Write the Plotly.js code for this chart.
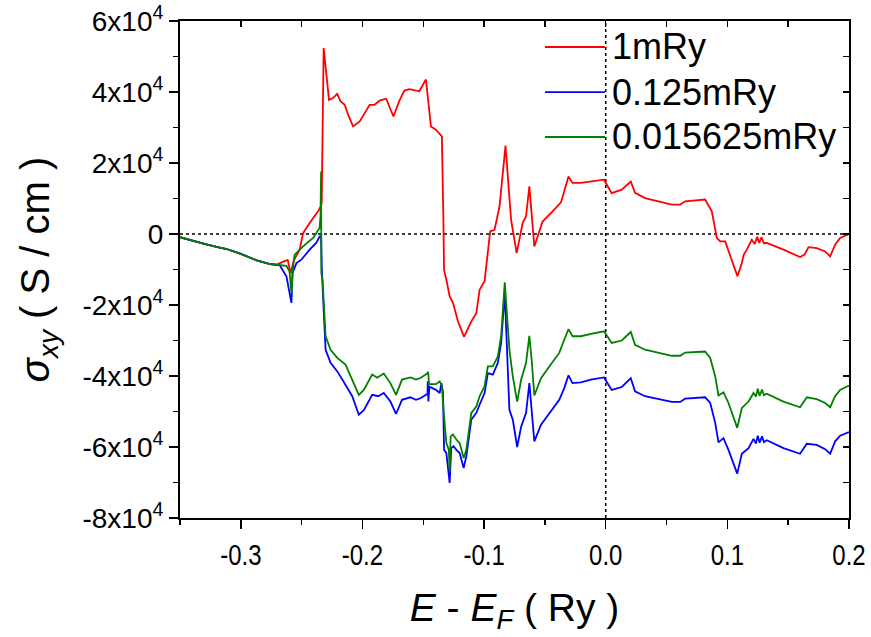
<!DOCTYPE html>
<html>
<head>
<meta charset="utf-8">
<script src="https://cdn.plot.ly/plotly-3.0.1.min.js"></script>
<style>
  html, body { margin: 0; padding: 0; background: #fff; }
  #chart { width: 871px; height: 637px; }
</style>
</head>
<body>
<div id="chart"></div>
<script>
// Hall conductivity sigma_xy versus energy relative to the Fermi level,
// for three broadening parameters.
const seriesNames = ['1mRy', '0.125mRy', '0.015625mRy'];
const seriesColors = ['#ff0000', '#0000ff', '#007f00'];

// Broadening 1 mRy
const energy1mRy = [
  -0.35, -0.34, -0.33, -0.32, -0.3116, -0.30, -0.2869, -0.276, -0.2705, -0.265,
  -0.2615, -0.259, -0.2565, -0.2516, -0.2488, -0.2434, -0.2365, -0.2343, -0.2335, -0.2319,
  -0.2302, -0.2275, -0.2242, -0.2208, -0.2181, -0.2146, -0.2118, -0.2077, -0.2023, -0.1941,
  -0.19, -0.1859, -0.1805, -0.1745, -0.1697, -0.1655, -0.1615, -0.1533, -0.1478, -0.1437,
  -0.1396, -0.1347, -0.1335, -0.1329, -0.131, -0.1283, -0.1256, -0.1215, -0.1165, -0.1105,
  -0.1064, -0.1037, -0.0996, -0.0969, -0.095, -0.0914, -0.0873, -0.0824, -0.0778, -0.0732,
  -0.0683, -0.0655, -0.0628, -0.0587, -0.0519, -0.0437, -0.0368, -0.0306, -0.0273, -0.0204,
  -0.0122, -0.0014, 0.0049, 0.0132, 0.0206, 0.0241, 0.0323, 0.0447, 0.0543, 0.0612,
  0.0653, 0.0817, 0.0872, 0.0913, 0.0941, 0.0982, 0.105, 0.1083, 0.1119, 0.1135,
  0.116, 0.1201, 0.1225, 0.1245, 0.1262, 0.128, 0.13, 0.1324, 0.1461, 0.1598,
  0.1635, 0.1667, 0.1735, 0.1804, 0.1845, 0.1886, 0.1927, 0.2
];
const sigma1mRy = [
  -900, -1900, -2800, -3600, -4225, -5600, -7440, -8450, -8600, -7800,
  -7300, -11000, -7500, -4420, 280, 3100, 6370, 7770, 9000, 52400,
  46300, 37800, 38300, 39500, 37400, 36400, 33600, 30300, 31700, 36400,
  36400, 37600, 38100, 33100, 37500, 40400, 40800, 40200, 43500, 30300,
  29400, 27500, 5000, -10100, -12900, -17600, -19400, -24600, -29000, -24600,
  -22300, -15700, -13300, -4400, 730, 1200, 7800, 24900, 4000, -5400,
  3100, 5000, 13400, -3500, 3500, 6400, 8900, 16200, 14400, 14400,
  14800, 15300, 11500, 12500, 14800, 11600, 10100, 9200, 8300, 8300,
  9200, 9700, 6400, -1100, -2100, -2100, -9100, -11900, -8200, -5800,
  -4400, -1600, -2800, -800, -2500, -900, -2600, -2500, -4400, -6500,
  -5800, -3700, -4000, -4900, -6300, -3000, -1100, 0
];

// Broadening 0.125 mRy
const energy0125mRy = [
  -0.35, -0.34, -0.33, -0.32, -0.3116, -0.30, -0.2869, -0.276, -0.268, -0.2625,
  -0.2584, -0.2575, -0.2543, -0.2502, -0.2434, -0.238, -0.2352, -0.234, -0.2335, -0.2318,
  -0.2303, -0.2262, -0.2207, -0.2157, -0.2084, -0.203, -0.1989, -0.192, -0.187, -0.1825,
  -0.177, -0.1724, -0.1675, -0.1606, -0.156, -0.1519, -0.1478, -0.1465, -0.1463, -0.1458,
  -0.145, -0.1396, -0.1365, -0.1351, -0.1338, -0.1329, -0.131, -0.1283, -0.127, -0.1251,
  -0.1228, -0.1201, -0.1168, -0.1146, -0.1105, -0.1064, -0.1037, -0.0996, -0.0969, -0.0928,
  -0.0887, -0.086, -0.083, -0.0792, -0.0764, -0.0728, -0.0695, -0.0655, -0.0628, -0.0609,
  -0.0587, -0.0532, -0.0464, -0.0382, -0.0341, -0.0306, -0.0273, -0.0204, -0.0122, -0.0014,
  0.0049, 0.0132, 0.0206, 0.0241, 0.0323, 0.0433, 0.0543, 0.0612, 0.0653, 0.0817,
  0.0859, 0.09, 0.0927, 0.0968, 0.1009, 0.1081, 0.1119, 0.1174, 0.1215, 0.1235,
  0.125, 0.1265, 0.1285, 0.13, 0.1324, 0.1461, 0.1598, 0.1653, 0.1735, 0.1804,
  0.1845, 0.1886, 0.1927, 0.2
];
const sigma0125mRy = [
  -900, -1900, -2800, -3600, -4225, -5600, -7440, -8450, -8800, -11900,
  -19400, -11000, -8200, -7240, -4400, -2500, -700, -400, -9000, -22000,
  -32600, -36300, -38700, -41500, -45700, -50900, -49600, -45300, -45700, -44800,
  -47200, -50700, -46700, -46000, -46700, -46200, -45100, -45000, -41500, -47200,
  -43000, -43900, -44800, -42000, -44500, -60800, -61700, -70100, -60300, -59800,
  -60800, -61700, -65900, -62600, -52300, -50400, -48100, -44800, -39200, -39600,
  -36300, -30700, -16600, -49500, -52300, -60000, -54200, -50400, -42000, -48600,
  -58400, -53700, -50400, -46700, -43400, -39800, -42000, -41800, -41000, -40400,
  -43900, -43100, -40600, -44300, -45700, -46400, -47300, -47300, -46400, -46000,
  -47600, -53200, -58700, -57500, -60800, -67500, -61900, -60300, -57700, -59000,
  -56800, -58800, -57000, -58600, -58100, -60300, -61900, -59100, -59400, -60600,
  -61900, -58400, -56800, -55800
];

// Broadening 0.015625 mRy
const energy015625mRy = [
  -0.35, -0.34, -0.33, -0.32, -0.3116, -0.30, -0.2869, -0.276, -0.268, -0.2625,
  -0.26, -0.2584, -0.257, -0.2557, -0.2488, -0.2406, -0.2352, -0.2345, -0.234, -0.2338,
  -0.2328, -0.231, -0.2303, -0.2262, -0.2207, -0.2139, -0.2084, -0.203, -0.1989, -0.192,
  -0.1879, -0.1825, -0.177, -0.1724, -0.1675, -0.1606, -0.156, -0.1519, -0.1464, -0.146,
  -0.1452, -0.1396, -0.1365, -0.1347, -0.1329, -0.131, -0.129, -0.1283, -0.1275, -0.1256,
  -0.1228, -0.1201, -0.1168, -0.1146, -0.1105, -0.1064, -0.1037, -0.0996, -0.0969, -0.0928,
  -0.0887, -0.086, -0.083, -0.0792, -0.0764, -0.0728, -0.0695, -0.0655, -0.0628, -0.0609,
  -0.0587, -0.0532, -0.0464, -0.0382, -0.0341, -0.0306, -0.0273, -0.0204, -0.0122, -0.0014,
  0.0049, 0.0132, 0.0206, 0.0241, 0.0323, 0.0433, 0.0543, 0.0612, 0.0653, 0.0817,
  0.0859, 0.09, 0.0927, 0.0968, 0.1009, 0.1081, 0.1119, 0.1174, 0.1215, 0.1235,
  0.125, 0.1265, 0.1285, 0.13, 0.1324, 0.1461, 0.1598, 0.1653, 0.1735, 0.1804,
  0.1845, 0.1886, 0.1927, 0.2
];
const sigma015625mRy = [
  -900, -1900, -2800, -3600, -4225, -5600, -7440, -8450, -8800, -9000,
  -10500, -16600, -9000, -5800, -3500, -1100, 1700, 5000, 17600, -11000,
  -13000, -27000, -28800, -32600, -34900, -36800, -41000, -45300, -43900, -39600,
  -40500, -39300, -42000, -45300, -41000, -40400, -41000, -40500, -39200, -38800,
  -42300, -42300, -41500, -42900, -51400, -58900, -60800, -66900, -57000, -56500,
  -57900, -58900, -63100, -60800, -50400, -48600, -45700, -42900, -37300, -37300,
  -34500, -28800, -13600, -32600, -40100, -47200, -41000, -36300, -28700, -35400,
  -45500, -40600, -37300, -33500, -29800, -26800, -28800, -28800, -28100, -27400,
  -30700, -30000, -27600, -31200, -32600, -33400, -34300, -34300, -33400, -33100,
  -34900, -40100, -45500, -44600, -47600, -54600, -49000, -47200, -44800, -45800,
  -43600, -45600, -43800, -45400, -45000, -47200, -48800, -46000, -46500, -47600,
  -48800, -45700, -43900, -42700
];

// Axis ticks
const xTickVals = [-0.3, -0.2, -0.1, 0.0, 0.1, 0.2];
const xTickText = ['-0.3', '-0.2', '-0.1', '0.0', '0.1', '0.2'];
const yTickVals = [-80000, -60000, -40000, -20000, 0, 20000, 40000, 60000];
const yTickText = ['-8x10<sup>4</sup>', '-6x10<sup>4</sup>', '-4x10<sup>4</sup>', '-2x10<sup>4</sup>',
                   '0', '2x10<sup>4</sup>', '4x10<sup>4</sup>', '6x10<sup>4</sup>'];

const xRange = [-0.35, 0.2];
const yRange = [-80000, 60000];

const energies = [energy1mRy, energy0125mRy, energy015625mRy];
const sigmas = [sigma1mRy, sigma0125mRy, sigma015625mRy];

const traces = seriesNames.map((name, i) => ({
  type: 'scatter',
  mode: 'lines',
  name: name,
  x: energies[i],
  y: sigmas[i],
  line: { color: seriesColors[i], width: 1.8 },
  showlegend: false,
  hoverinfo: 'skip'
}));

// Empty traces that bring up the top and right frame axes
traces.push({ type: 'scatter', x: [], y: [], xaxis: 'x2', yaxis: 'y', showlegend: false });
traces.push({ type: 'scatter', x: [], y: [], xaxis: 'x', yaxis: 'y2', showlegend: false });

const FONT = 'Liberation Sans';
const TICK_SIZE = 28;

// Hand-placed legend: a line sample and a label per series
const legendRowsY = [0.9477, 0.857, 0.7666];
const legendShapes = seriesNames.map((n, i) => ({
  type: 'line', xref: 'paper', yref: 'paper',
  x0: 0.5456, x1: 0.6353, y0: legendRowsY[i], y1: legendRowsY[i],
  line: { color: seriesColors[i], width: 1.8 }
}));
const legendLabels = seriesNames.map((n, i) => ({
  xref: 'paper', yref: 'paper', x: 0.6427, y: legendRowsY[i],
  xanchor: 'left', yanchor: 'middle', showarrow: false,
  text: n, font: { family: FONT, size: 36, color: '#000' }
}));

const layout = {
  width: 871,
  height: 637,
  margin: { l: 180, r: 22, t: 21, b: 119 },
  paper_bgcolor: '#fff',
  plot_bgcolor: '#fff',
  font: { family: FONT, size: TICK_SIZE, color: '#000' },
  showlegend: false,
  xaxis: {
    range: xRange,
    tickmode: 'array',
    tickvals: xTickVals,
    ticktext: xTickText,
    ticks: 'outside',
    ticklen: 9,
    tickwidth: 1.5,
    tickcolor: '#000',
    minor: { tickmode: 'linear', tick0: 0, dtick: 0.05, ticks: 'outside', ticklen: 5, tickwidth: 1.5, tickcolor: '#000', showgrid: false },
    showline: true,
    linewidth: 2,
    linecolor: '#000',
    showgrid: false,
    zeroline: false,
    automargin: false,
    tickfont: { family: FONT, size: 30, color: '#000' },
    title: {
      text: '<i>E</i> - <i>E</i><sub><i>F</i></sub> ( Ry )',
      font: { family: FONT, size: 39, color: '#000' },
      standoff: 24
    }
  },
  xaxis2: {
    overlaying: 'x',
    anchor: 'y',
    side: 'top',
    range: xRange,
    tickmode: 'linear',
    tick0: 0,
    dtick: 0.05,
    ticks: 'inside',
    ticklen: 6,
    tickwidth: 1.5,
    tickcolor: '#000',
    showticklabels: false,
    showline: true,
    linewidth: 2,
    linecolor: '#000',
    showgrid: false,
    zeroline: false
  },
  yaxis: {
    range: yRange,
    tickmode: 'array',
    tickvals: yTickVals,
    ticktext: yTickText,
    ticks: 'outside',
    ticklen: 9,
    tickwidth: 1.5,
    tickcolor: '#000',
    minor: { tickmode: 'linear', tick0: 0, dtick: 10000, ticks: 'outside', ticklen: 5, tickwidth: 1.5, tickcolor: '#000', showgrid: false },
    showline: true,
    linewidth: 2,
    linecolor: '#000',
    showgrid: false,
    zeroline: false,
    automargin: false,
    tickfont: { family: FONT, size: TICK_SIZE, color: '#000' },
    title: {
      text: '<i>σ</i><sub><i>xy</i></sub> ( S / cm )',
      font: { family: FONT, size: 40, color: '#000' },
      standoff: 20
    }
  },
  yaxis2: {
    overlaying: 'y',
    anchor: 'x',
    side: 'right',
    range: yRange,
    tickmode: 'linear',
    tick0: 0,
    dtick: 10000,
    ticks: 'inside',
    ticklen: 6,
    tickwidth: 1.5,
    tickcolor: '#000',
    showticklabels: false,
    showline: true,
    linewidth: 2,
    linecolor: '#000',
    showgrid: false,
    zeroline: false
  },
  shapes: [
    // dotted reference lines at sigma = 0 and E = E_F
    { type: 'line', xref: 'x', yref: 'y', layer: 'below', x0: xRange[0], x1: xRange[1], y0: 0, y1: 0,
      line: { color: '#000', width: 1.5, dash: 'dot' } },
    { type: 'line', xref: 'x', yref: 'y', layer: 'below', x0: 0, x1: 0, y0: yRange[0], y1: yRange[1],
      line: { color: '#000', width: 1.5, dash: 'dot' } }
  ].concat(legendShapes),
  annotations: legendLabels
};

Plotly.newPlot('chart', traces, layout, { staticPlot: true, displayModeBar: false }).then(gd => {
  // condense the energy tick labels horizontally around their anchor
  gd.querySelectorAll('.xtick text').forEach(t => {
    const x = parseFloat(t.getAttribute('x')) || 0;
    const prev = t.getAttribute('transform') || '';
    t.setAttribute('transform', prev + ' translate(' + x + ',0) scale(0.8,1) translate(' + (-x) + ',0)');
  });
});
</script>
</body>
</html>
